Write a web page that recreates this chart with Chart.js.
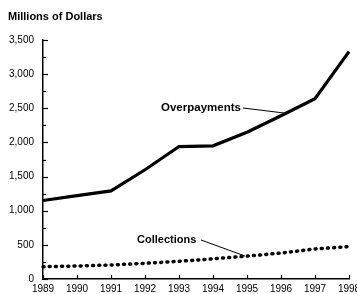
<!DOCTYPE html>
<html>
<head>
<meta charset="utf-8">
<script src="https://cdn.jsdelivr.net/npm/chart.js@4"></script>
<style>
  html, body { margin: 0; padding: 0; background: #fff; overflow: hidden; }
  #wrap { width: 357px; height: 294px; overflow: hidden; }
  canvas { display: block; }
</style>
</head>
<body>
<div id="wrap"><canvas id="grafico" width="380" height="294"></canvas></div>
<script>
const years = ["1989", "1990", "1991", "1992", "1993", "1994", "1995", "1996", "1997", "1998"];
const overpayments = [1150, 1220, 1290, 1600, 1940, 1950, 2150, 2390, 2640, 3330];
const collections = [180, 190, 205, 230, 259, 295, 335, 380, 440, 475];
const yTicks = [0, 500, 1000, 1500, 2000, 2500, 3000, 3500];

const FONT = "'Liberation Sans', Arial, Helvetica, sans-serif";

// ticks that sit inside the plot, plus title and callouts
const extras = {
  id: "extras",
  afterDraw(chart) {
    const c = chart.ctx;
    const x = chart.scales.x;
    const y = chart.scales.y;
    const area = chart.chartArea;
    c.save();
    c.strokeStyle = "#000";
    c.lineWidth = 1.2;
    for (let v = 0; v <= 3500; v += 250) {
      const py = Math.round(y.getPixelForValue(v)) + 0.5;
      const len = v % 500 === 0 ? 5 : 3;
      c.beginPath();
      c.moveTo(area.left, py);
      c.lineTo(area.left + len, py);
      c.stroke();
    }
    years.forEach((yr, i) => {
      const px = Math.round(x.getPixelForValue(i)) + 0.5;
      c.beginPath();
      c.moveTo(px, area.bottom);
      c.lineTo(px, area.bottom - 4);
      c.stroke();
    });

    c.fillStyle = "#000";
    c.font = "bold 11px " + FONT;
    c.textBaseline = "middle";
    c.textAlign = "left";
    c.fillText("Millions of Dollars", 8, 17);

    c.font = "bold 11.5px " + FONT;
    c.fillText("Overpayments", 161, 108);
    c.font = "bold 11px " + FONT;
    c.fillText("Collections", 137, 240);

    c.lineWidth = 1;
    c.beginPath();
    c.moveTo(243, 108);
    c.lineTo(284, 113);
    c.stroke();
    c.beginPath();
    c.moveTo(201, 240);
    c.lineTo(245, 256);
    c.stroke();
    c.restore();
  }
};

new Chart(document.getElementById("grafico"), {
  type: "line",
  data: {
    labels: years,
    datasets: [
      {
        label: "Overpayments",
        data: overpayments,
        borderColor: "#000",
        borderWidth: 3.2,
        pointRadius: 0,
        tension: 0
      },
      {
        label: "Collections",
        data: collections,
        borderColor: "#000",
        borderWidth: 3.5,
        borderDash: [1, 5.2],
        borderCapStyle: "round",
        pointRadius: 0,
        tension: 0
      }
    ]
  },
  options: {
    responsive: false,
    animation: false,
    devicePixelRatio: 1,
    layout: { padding: { left: 0, top: 40, right: 31, bottom: 0 } },
    plugins: { legend: { display: false }, tooltip: { enabled: false } },
    scales: {
      x: {
        offset: false,
        grid: { drawOnChartArea: false, drawTicks: false },
        border: { display: true, color: "#000", width: 1.5 },
        ticks: { color: "#000", font: { family: FONT, size: 10 }, padding: 4, maxRotation: 0, autoSkip: false },
        afterFit(s) { s.height = 14; }
      },
      y: {
        min: 0,
        max: 3500,
        grid: { drawOnChartArea: false, drawTicks: false },
        border: { display: true, color: "#000", width: 1.5 },
        afterBuildTicks(s) { s.ticks = yTicks.map(v => ({ value: v })); },
        ticks: {
          color: "#000",
          font: { family: FONT, size: 10 },
          padding: 9,
          callback: v => v.toLocaleString("en-US")
        },
        afterFit(s) { s.width = 43; }
      }
    }
  },
  plugins: [extras]
});
</script>
</body>
</html>
